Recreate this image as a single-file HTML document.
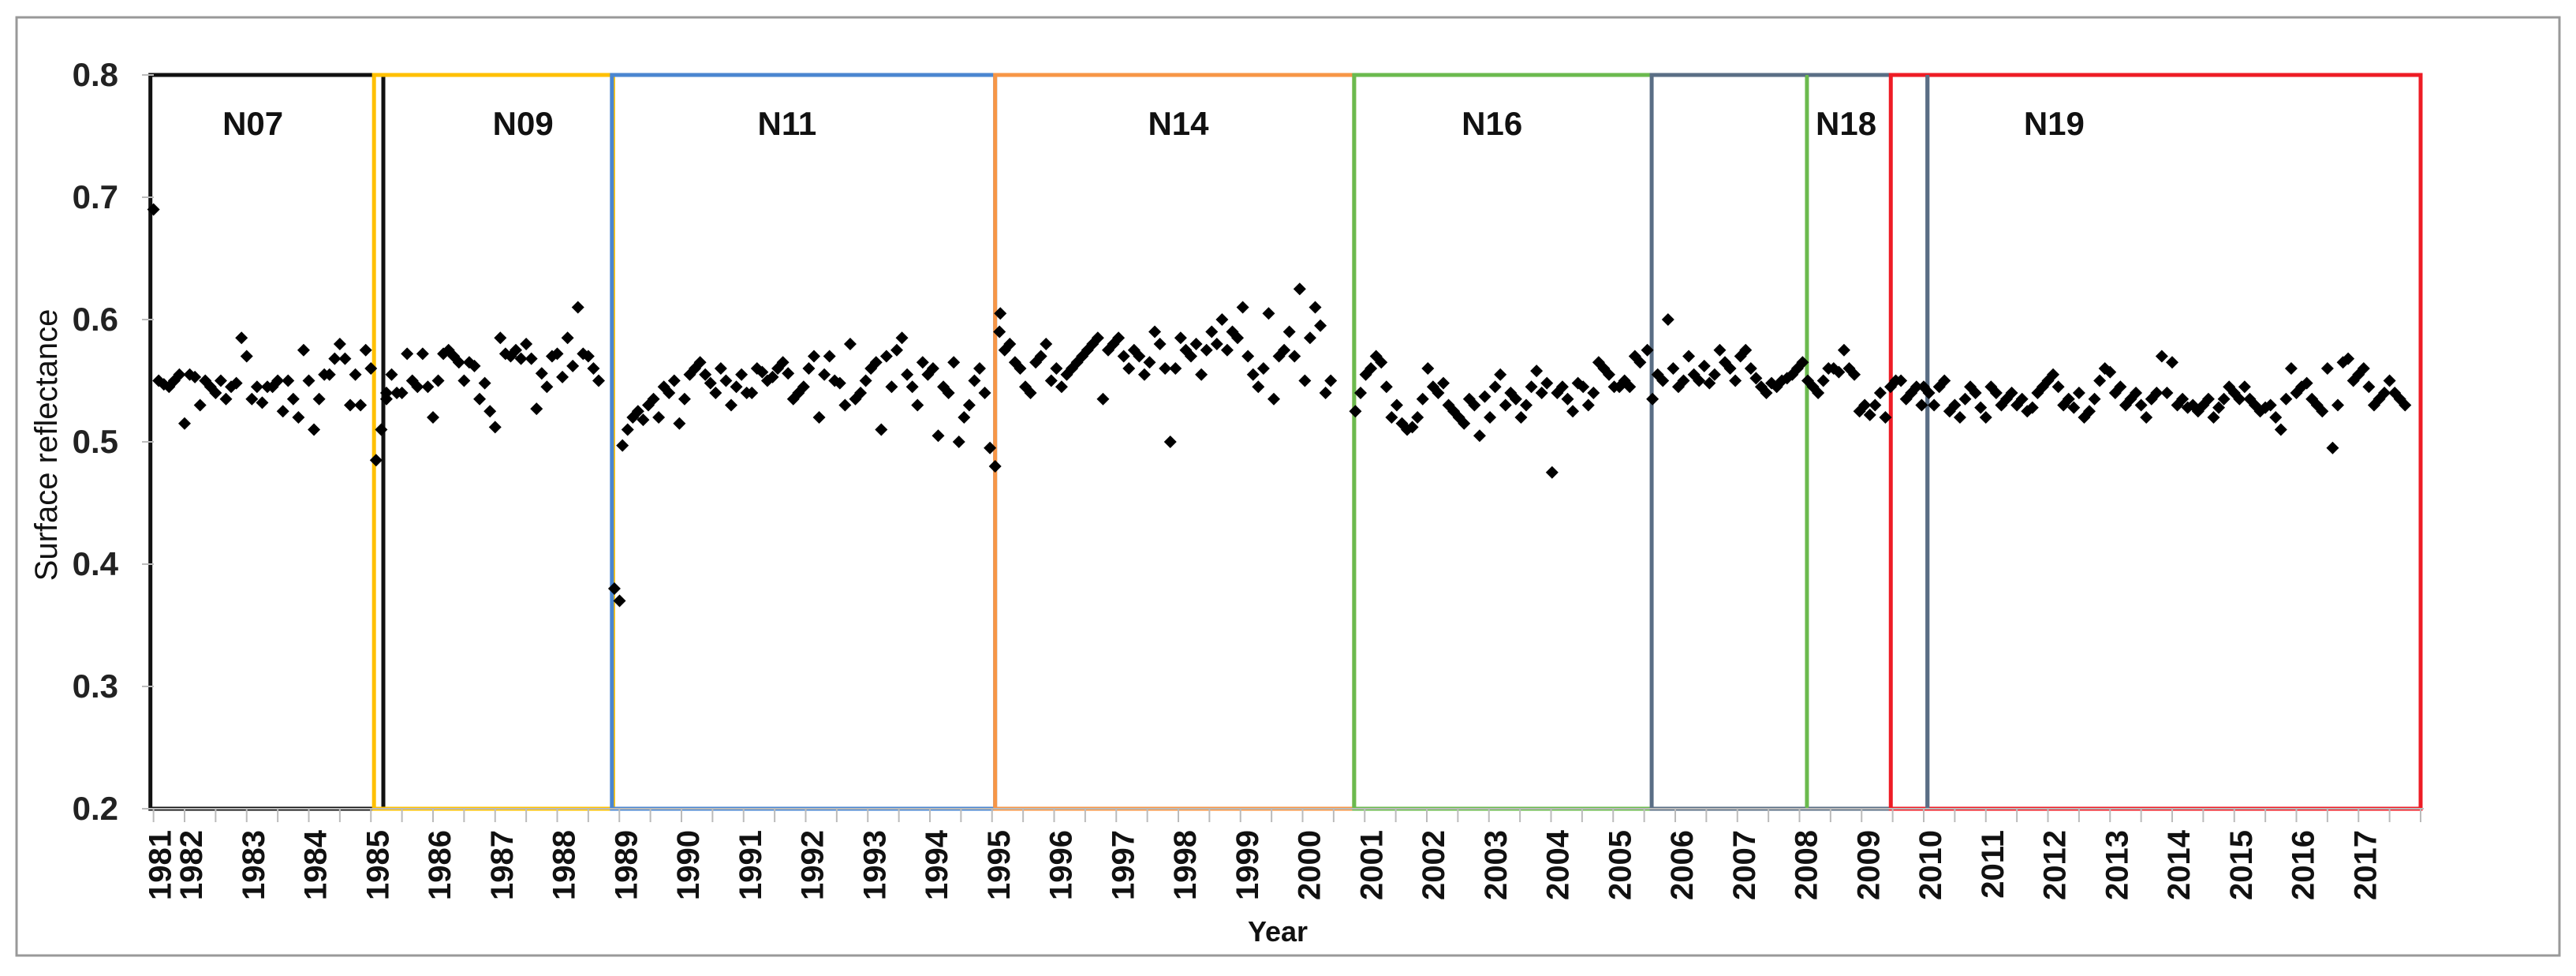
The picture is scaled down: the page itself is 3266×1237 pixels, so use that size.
<!DOCTYPE html>
<html><head><meta charset="utf-8"><style>
html,body{margin:0;padding:0;background:#fff}
svg{display:block}
text{font-family:"Liberation Sans",sans-serif}
</style></head><body>
<svg id="chart" width="3266" height="1237" viewBox="0 0 3266 1237" xmlns="http://www.w3.org/2000/svg">
<rect x="21" y="22" width="3224" height="1189" fill="#fff" stroke="#999" stroke-width="3"/>
<g id="boxes"></g>
<g id="axes"></g>
<g id="points"></g>
<text transform="translate(72,564) rotate(-90)" text-anchor="middle" font-size="40" fill="#111">Surface reflectance</text>
<text x="1620" y="1193" text-anchor="middle" font-size="36" font-weight="bold" fill="#111">Year</text>
</svg>
<script>
const yTicks=[0.2,0.3,0.4,0.5,0.6,0.7,0.8];
const yearLabels=[1981,1982,1983,1984,1985,1986,1987,1988,1989,1990,1991,1992,1993,1994,1995,1996,1997,1998,1999,2000,2001,2002,2003,2004,2005,2006,2007,2008,2009,2010,2011,2012,2013,2014,2015,2016,2017];
const yearLabelTimes=[1981.5,1982,1983,1984,1985,1986,1987,1988,1989,1990,1991,1992,1993,1994,1995,1996,1997,1998,1999,2000,2001,2002,2003,2004,2005,2006,2007,2008,2009,2010,2011,2012,2013,2014,2015,2016,2017];
const satNames=["N07","N09","N11","N14","N16","N18-box","N18","N19"];
const satStart=[1981.45,1985.05,1988.88,1995.05,2000.83,2005.62,2008.12,2009.47];
const satEnd=[1985.2,1988.9,1995.05,2000.83,2008.12,2010.06,2008.12,2018.0];
const satLabels=["N07","N09","N11","N14","N16","","N18","N19"];
const satLabelTimes=[1983.1,1987.45,1991.7,1998.0,2003.05,0,2008.75,2012.1];
const segStarts=[1981.5,1985.25,1988.92,1989.05,1995.12,2000.85,2005.55,2010.0];
const segN07=[0.69,0.55,0.547,0.545,0.55,0.555,0.515,0.555,0.553,0.53,0.55,0.545,0.54,0.55,0.535,0.545,0.548,0.585,0.57,0.535,0.545,0.532,0.545,0.545,0.55,0.525,0.55,0.535,0.52,0.575,0.55,0.51,0.535,0.555,0.555,0.568,0.58,0.568,0.53,0.555,0.53,0.575,0.56,0.485,0.51,0.535];
const segN09=[0.54,0.555,0.54,0.54,0.572,0.55,0.545,0.572,0.545,0.52,0.55,0.572,0.575,0.57,0.565,0.55,0.565,0.562,0.535,0.548,0.525,0.512,0.585,0.572,0.57,0.575,0.568,0.58,0.568,0.527,0.556,0.545,0.57,0.572,0.553,0.585,0.562,0.61,0.572,0.57,0.56,0.55];
const segGap=[0.38,0.37];
const segN11=[0.497,0.51,0.52,0.525,0.518,0.53,0.535,0.52,0.545,0.54,0.55,0.515,0.535,0.555,0.56,0.565,0.555,0.548,0.54,0.56,0.55,0.53,0.545,0.555,0.54,0.54,0.56,0.557,0.55,0.553,0.56,0.565,0.556,0.535,0.54,0.545,0.56,0.57,0.52,0.555,0.57,0.55,0.548,0.53,0.58,0.535,0.54,0.55,0.56,0.565,0.51,0.57,0.545,0.575,0.585,0.555,0.545,0.53,0.565,0.555,0.56,0.505,0.545,0.54,0.565,0.5,0.52,0.53,0.55,0.56,0.54,0.495,0.48,0.605];
const segN14=[0.59,0.575,0.58,0.565,0.56,0.545,0.54,0.565,0.57,0.58,0.55,0.56,0.545,0.555,0.56,0.565,0.57,0.575,0.58,0.585,0.535,0.575,0.58,0.585,0.57,0.56,0.575,0.57,0.555,0.565,0.59,0.58,0.56,0.5,0.56,0.585,0.575,0.57,0.58,0.555,0.575,0.59,0.58,0.6,0.575,0.59,0.585,0.61,0.57,0.555,0.545,0.56,0.605,0.535,0.57,0.575,0.59,0.57,0.625,0.55,0.585,0.61,0.595,0.54,0.55];
const segN16=[0.525,0.54,0.555,0.56,0.57,0.565,0.545,0.52,0.53,0.515,0.51,0.512,0.52,0.535,0.56,0.545,0.54,0.548,0.53,0.525,0.52,0.515,0.535,0.53,0.505,0.537,0.52,0.545,0.555,0.53,0.54,0.535,0.52,0.53,0.545,0.558,0.54,0.548,0.475,0.54,0.545,0.535,0.525,0.548,0.545,0.53,0.54,0.565,0.56,0.555,0.545,0.545,0.55,0.545,0.57,0.565];
const segN18=[0.575,0.535,0.555,0.55,0.6,0.56,0.545,0.55,0.57,0.555,0.55,0.562,0.548,0.555,0.575,0.565,0.56,0.55,0.57,0.575,0.56,0.552,0.545,0.54,0.548,0.545,0.55,0.552,0.555,0.56,0.565,0.55,0.545,0.54,0.55,0.56,0.56,0.557,0.575,0.56,0.555,0.525,0.53,0.522,0.53,0.54,0.52,0.545,0.55,0.55,0.535,0.54,0.545,0.53];
const segN19=[0.545,0.54,0.53,0.545,0.55,0.525,0.53,0.52,0.535,0.545,0.54,0.528,0.52,0.545,0.54,0.53,0.535,0.54,0.53,0.535,0.525,0.528,0.54,0.545,0.55,0.555,0.545,0.53,0.535,0.528,0.54,0.52,0.525,0.535,0.55,0.56,0.557,0.54,0.545,0.53,0.535,0.54,0.53,0.52,0.535,0.54,0.57,0.54,0.565,0.53,0.535,0.528,0.53,0.525,0.53,0.535,0.52,0.528,0.535,0.545,0.54,0.535,0.545,0.535,0.53,0.525,0.528,0.53,0.52,0.51,0.535,0.56,0.54,0.545,0.548,0.535,0.53,0.525,0.56,0.495,0.53,0.565,0.568,0.55,0.555,0.56,0.545,0.53,0.535,0.54,0.55,0.54,0.535,0.53];
const segments=[segN07,segN09,segGap,segN11,segN14,segN16,segN18,segN19];

const NS="http://www.w3.org/2000/svg";
function xs(t){return 234+(t-1982)*78.75;}
function ys(v){return 1025-(v-0.2)*1550;}
function mk(tag,attrs,parent){const e=document.createElementNS(NS,tag);for(const k in attrs)e.setAttribute(k,attrs[k]);parent.appendChild(e);return e;}
const boxes=document.getElementById('boxes'),axes=document.getElementById('axes'),pts=document.getElementById('points');
const colors={"N07":"#111","N09":"#FFC000","N11":"#4A86D0","N14":"#F79646","N16":"#6BBA4E","N18-box":"#5A6E85","N18":"#6BBA4E","N19":"#EE1C25"};
satNames.forEach((n,i)=>{
  if(n==="N18"){
    const l=mk('line',{x1:xs(satStart[i]),x2:xs(satStart[i]),y1:ys(0.8),y2:ys(0.2),stroke:colors[n],'stroke-width':4},boxes);
    
    
  } else {
    const r=mk('rect',{x:xs(satStart[i]),y:ys(0.8),width:xs(satEnd[i])-xs(satStart[i]),height:ys(0.2)-ys(0.8),fill:'none',stroke:colors[n],'stroke-width':5},boxes);
    
    
  }
  if(satLabels[i]){
    const t=mk('text',{x:xs(satLabelTimes[i]),y:171,'text-anchor':'middle','font-size':42,'font-weight':'bold',fill:'#111'},boxes);
    t.textContent=satLabels[i];
    
    
  }
});
const sl=mk('line',{x1:xs(2010.06),x2:xs(2010.06),y1:ys(0.8),y2:ys(0.2),stroke:'#5A6E85','stroke-width':5},boxes);


const xa=mk('line',{x1:xs(1981.5),x2:xs(2018.05),y1:1025,y2:1025,stroke:'#bbb','stroke-width':2},axes);


for(let t=1981.5;t<=2018.01;t+=0.5){
  const tk=mk('line',{x1:xs(t),x2:xs(t),y1:1025,y2:1042,stroke:'#bbb','stroke-width':2},axes);
  
  
}
yTicks.forEach(v=>{
  const tk=mk('line',{x1:180,x2:195,y1:ys(v),y2:ys(v),stroke:'#bbb','stroke-width':2},axes);
  
  
  const t=mk('text',{x:150,y:ys(v)+14,'text-anchor':'end','font-size':42,'font-weight':'bold',fill:'#222'},axes);
  t.textContent=v.toFixed(1);
  
  
});
yearLabels.forEach((y,i)=>{
  const x=xs(yearLabelTimes[i])+22;
  const t=mk('text',{transform:`translate(${x},1052) rotate(-90)`,'text-anchor':'end','font-size':40,'font-weight':'bold',fill:'#111'},axes);
  t.textContent=y;
  
  
});
segments.forEach((seg,si)=>{
  seg.forEach((v,j)=>{
    const cx=xs(segStarts[si]+j/12),cy=ys(v);
    const p=mk('path',{d:`M${cx} ${cy-8}L${cx+8} ${cy}L${cx} ${cy+8}L${cx-8} ${cy}Z`,fill:'#000'},pts);
    
    
  });
});
</script>
</body></html>
